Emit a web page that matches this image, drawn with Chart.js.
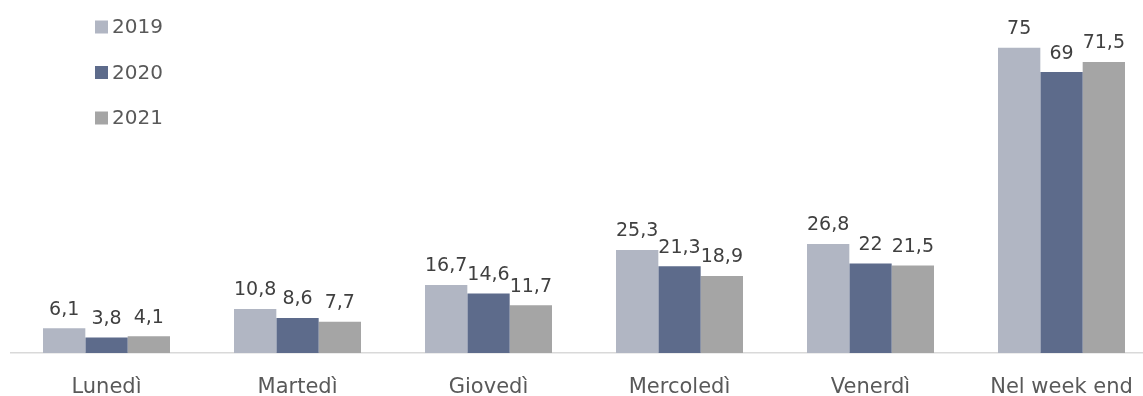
<!DOCTYPE html>
<html>
<head>
<meta charset="utf-8">
<script src="https://cdn.jsdelivr.net/npm/chart.js@4/dist/chart.umd.min.js"></script>
<style>
  html, body { margin: 0; padding: 0; background: #fff; overflow: hidden; }
  #wrap { width: 1160px; height: 396px; }
</style>
</head>
<body>
<div id="wrap"><canvas id="graph-canvas"></canvas></div>
<script>
var categories = ["Lunedì", "Martedì", "Giovedì", "Mercoledì", "Venerdì", "Nel week end"];
var seriesNames = ["2019", "2020", "2021"];
var values2019 = [6.1, 10.8, 16.7, 25.3, 26.8, 75];
var values2020 = [3.8, 8.6, 14.6, 21.3, 22, 69];
var values2021 = [4.1, 7.7, 11.7, 18.9, 21.5, 71.5];
var barColors = ["#b1b6c3", "#5d6b8b", "#a5a5a5"];

var fontFamily = "'DejaVu Sans', sans-serif";

// value labels above each bar, italian decimal comma
var barLabels = {
    id: 'barLabels',
    afterDatasetsDraw(chart) {
        let ctx = chart.ctx;
        ctx.save();
        ctx.font = '19px ' + fontFamily;
        ctx.fillStyle = '#404040';
        ctx.textAlign = 'center';
        ctx.textBaseline = 'bottom';
        chart.data.datasets.forEach((ds, i) => {
            let meta = chart.getDatasetMeta(i);
            meta.data.forEach((bar, j) => {
                let txt = String(ds.data[j]).replace('.', ',');
                ctx.fillText(txt, bar.x, bar.y - 9);
            });
        });
        ctx.restore();
    }
};

// vertical legend in the top-left corner
var sideLegend = {
    id: 'sideLegend',
    afterDraw(chart) {
        let ctx = chart.ctx;
        ctx.save();
        ctx.font = '20px ' + fontFamily;
        ctx.textBaseline = 'middle';
        ctx.textAlign = 'left';
        chart.data.datasets.forEach((ds, i) => {
            let cy = 27 + i * 45.5;
            ctx.fillStyle = ds.backgroundColor;
            ctx.fillRect(95, cy - 6.5, 13, 13);
            ctx.fillStyle = '#595959';
            ctx.fillText(ds.label, 112, cy + 1);
        });
        ctx.restore();
    }
};

var datasets = [values2019, values2020, values2021].map((vals, i) => ({
    label: seriesNames[i],
    data: vals,
    backgroundColor: barColors[i],
    borderWidth: 0,
    categoryPercentage: 0.665,
    barPercentage: 1.0
}));

var canvas = document.getElementById('graph-canvas');
var context = canvas.getContext('2d');
var chart = new Chart(context, {
    type: 'bar',
    data: { labels: categories, datasets: datasets },
    plugins: [barLabels, sideLegend],
    options: {
        responsive: true,
        maintainAspectRatio: false,
        animation: false,
        layout: { padding: { top: 11, left: 11, right: 3, bottom: -26 } },
        plugins: {
            legend: { display: false },
            tooltip: { enabled: false }
        },
        scales: {
            x: {
                grid: { display: false, drawTicks: false },
                border: { display: true, color: '#d9d9d9', width: 1.5 },
                ticks: {
                    color: '#595959',
                    padding: 24,
                    font: { size: 21, family: fontFamily, lineHeight: 1 }
                }
            },
            y: {
                display: false,
                min: 0,
                max: 84
            }
        }
    }
});
</script>
</body>
</html>
